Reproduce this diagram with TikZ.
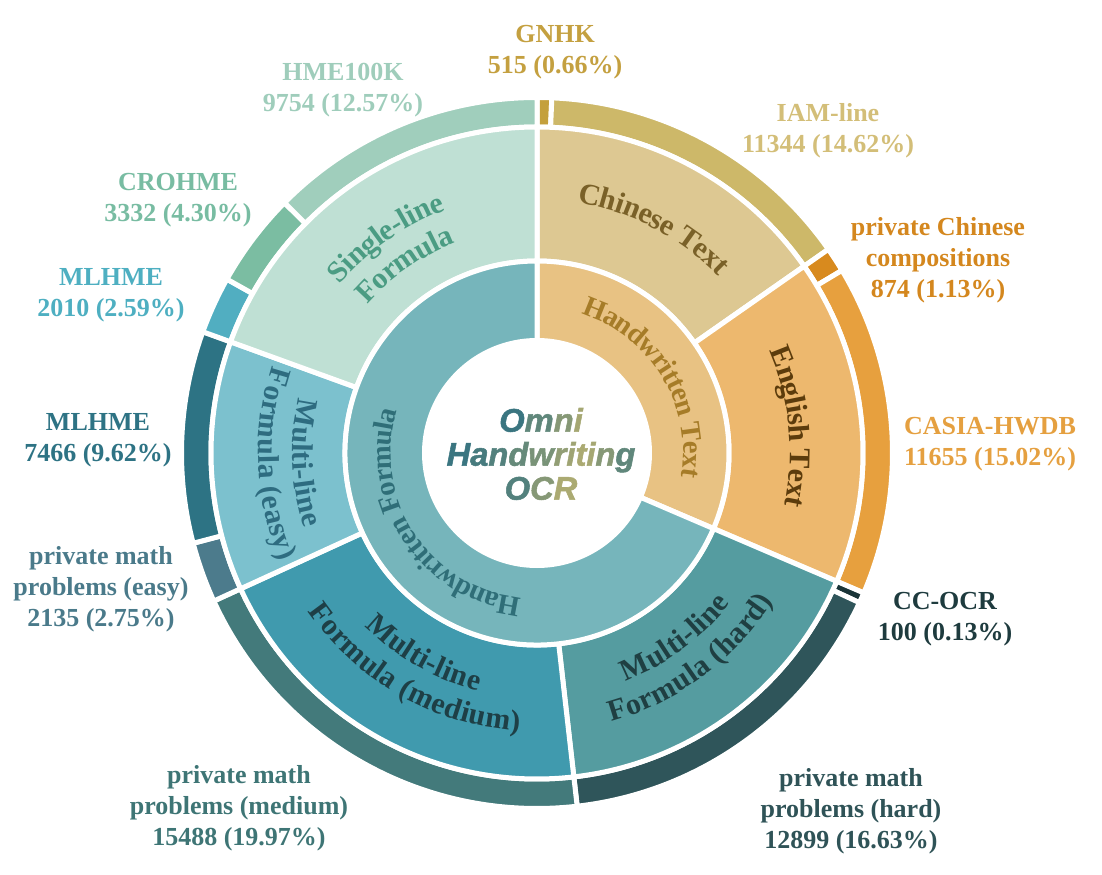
\documentclass[tikz,border=0pt]{standalone}
\usepackage{fontspec}
\setmainfont{Liberation Serif}
\setsansfont{Liberation Sans}
\newfontfamily\titlefam{Liberation Sans Bold Italic}[FakeBold=1.6]
\usepackage{tikz}
\usetikzlibrary{decorations.text}
% ring colours
\definecolor{gnhkc}{HTML}{C4A03C}
\definecolor{iamc}{HTML}{CDB869}
\definecolor{pccc}{HTML}{D88A1E}
\definecolor{casiac}{HTML}{E7A03E}
\definecolor{ccocrc}{HTML}{1A3438}
\definecolor{hardc}{HTML}{2F555A}
\definecolor{mediumc}{HTML}{437A7B}
\definecolor{easyc}{HTML}{4C7B8C}
\definecolor{mlhmeac}{HTML}{2D7384}
\definecolor{mlhmebc}{HTML}{51AEC1}
\definecolor{crohmec}{HTML}{7BBDA2}
\definecolor{hmec}{HTML}{A0CEBC}
\definecolor{chinc}{HTML}{DDC892}
\definecolor{engc}{HTML}{EDB86E}
\definecolor{mhardc}{HTML}{559CA0}
\definecolor{mmedc}{HTML}{409AAE}
\definecolor{measyc}{HTML}{7CC1CE}
\definecolor{msinglec}{HTML}{BFE0D4}
\definecolor{hwtc}{HTML}{E8C283}
\definecolor{hwfc}{HTML}{76B5BB}
% text colours
\definecolor{gnhkt}{HTML}{C4A040}
\definecolor{iamt}{HTML}{D3BE78}
\definecolor{pcct}{HTML}{D4871E}
\definecolor{casiat}{HTML}{E5A040}
\definecolor{ccocrt}{HTML}{1E3B3E}
\definecolor{hardt}{HTML}{2F5357}
\definecolor{mediumt}{HTML}{3E7575}
\definecolor{easyt}{HTML}{4A7A8A}
\definecolor{mlhmeat}{HTML}{2E7384}
\definecolor{mlhmebt}{HTML}{4EAFC1}
\definecolor{crohmet}{HTML}{78BCA2}
\definecolor{hmet}{HTML}{9FCDBB}
\definecolor{chint}{HTML}{7A6128}
\definecolor{engt}{HTML}{5C3C0C}
\definecolor{mhardt}{HTML}{1F3F42}
\definecolor{mmedt}{HTML}{1E3F46}
\definecolor{measyt}{HTML}{2E6C80}
\definecolor{msinglet}{HTML}{4B9C83}
\definecolor{hwtt}{HTML}{A67C28}
\definecolor{hwft}{HTML}{2F6E78}
\definecolor{omnit}{HTML}{3A7580}
\definecolor{omniy}{HTML}{B8B070}
\newcommand\outfont{\bfseries\fontsize{19.5}{23.3}\selectfont}
\newcommand\midfont{\bfseries\fontsize{22.5}{27}\selectfont}
\newcommand\innfont{\bfseries\fontsize{21.5}{25}\selectfont}
\newcommand\titlefont{\titlefam\bfseries\fontsize{24.5}{25.5}\selectfont}
\newcommand\gradl[2]{\textcolor{omniy!#1!omnit}{#2}}
\tikzset{
    sector/.style={draw=white, line width=3.75pt},
    outerlabel/.style={font=\outfont, align=center},
    ringtext/.style={decorate, decoration={text along path, text align=center, raise=-6.5pt}},
}
\begin{document}
\begin{tikzpicture}[x=0.75pt, y=0.75pt]
	\useasboundingbox (-537,-421) rectangle (565,453);
	% outer ring
	\foreach \a/\b/\c in {90/87.61/gnhkc, 87.61/34.96/iamc, 34.96/30.91/pccc, 30.91/-23.18/casiac,
		-23.18/-24.9/ccocrc, -24.9/-83.51/hardc, -83.51/-155.39/mediumc, -155.39/-165.29/easyc,
		-165.29/-199.94/mlhmeac, -199.94/-209.27/mlhmebc, -209.27/-224.74/crohmec, -224.74/-270/hmec}
		\draw[sector, fill=\c] (\a:355.5) arc (\a:\b:355.5) -- (\b:326) arc (\b:\a:326) -- cycle;
	% middle ring
	\foreach \a/\b/\c in {90/34.96/chinc, 34.96/-23.18/engc, -23.18/-83.51/mhardc,
		-83.51/-155.39/mmedc, -155.39/-199.94/measyc, -199.94/-270/msinglec}
		\draw[sector, fill=\c] (\a:326) arc (\a:\b:326) -- (\b:192) arc (\b:\a:192) -- cycle;
	% inner ring
	\draw[sector, fill=hwtc] (90:192) arc (90:-23.18:192) -- (-23.18:112.5) arc (-23.18:90:112.5) -- cycle;
	\draw[sector, fill=hwfc] (-23.18:192) arc (-23.18:-270:192) -- (-270:112.5) arc (-270:-23.18:112.5) -- cycle;

	\path[ringtext, decoration={text={|\innfont|Handwritten Text}, text color=hwtt}] (86:155) arc (86:-23.18:155);
	\path[ringtext, decoration={text={|\innfont|Handwritten Formula}, text color=hwft}] (-23.18:155) arc (-23.18:-270:155);

	\path[ringtext, decoration={text={|\midfont|Chinese Text}, text color=chint}] (90:262) arc (90:34.96:262);
	\path[ringtext, decoration={text={|\midfont|English Text}, text color=engt}] (34.96:262) arc (34.96:-23.18:262);
	\path[ringtext, decoration={text={|\midfont|Multi-line}, text color=mhardt}] (-83.51:236) arc (-83.51:-23.18:236);
	\path[ringtext, decoration={text={|\midfont|Formula (hard)}, text color=mhardt}] (-83.51:270) arc (-83.51:-23.18:270);
	\path[ringtext, decoration={text={|\midfont|Multi-line}, text color=mmedt}] (-155.39:236) arc (-155.39:-83.51:236);
	\path[ringtext, decoration={text={|\midfont|Formula (medium)}, text color=mmedt}] (-155.39:270) arc (-155.39:-83.51:270);
	\path[ringtext, decoration={text={|\midfont|Multi-line}, text color=measyt}] (-199.94:236) arc (-199.94:-155.39:236);
	\path[ringtext, decoration={text={|\midfont|Formula (easy)}, text color=measyt}] (-199.94:270) arc (-199.94:-155.39:270);
	\path[ringtext, decoration={text={|\midfont|Single-line}, text color=msinglet}] (160.06:268) arc (160.06:90:268);
	\path[ringtext, decoration={text={|\midfont|Formula}, text color=msinglet}] (160.06:234) arc (160.06:90:234);

	\node[font=\titlefont, align=center] (title) at (4,-1)
		{\gradl{0}{O}\gradl{30}{m}\gradl{60}{n}\gradl{85}{i}\\
		 \gradl{0}{H}\gradl{10}{a}\gradl{20}{n}\gradl{35}{d}\gradl{50}{w}\gradl{70}{r}\gradl{80}{i}\gradl{90}{t}\gradl{85}{i}\gradl{60}{n}\gradl{30}{g}\\
		 \gradl{20}{O}\gradl{60}{C}\gradl{90}{R}};

	\node[outerlabel, text=gnhkt] (gnhk) at (18,401) {GNHK\\515 (0.66\%)};
	\node[outerlabel, text=iamt] (iam) at (291,322) {IAM-line\\11344 (14.62\%)};
	\node[outerlabel, text=pcct] (pcc) at (401,193) {private Chinese\\compositions\\874 (1.13\%)};
	\node[outerlabel, text=casiat] (casia) at (453,9) {CASIA-HWDB\\11655 (15.02\%)};
	\node[outerlabel, text=ccocrt] (ccocr) at (408,-166) {CC-OCR\\100 (0.13\%)};
	\node[outerlabel, text=hardt] (hard) at (314,-358) {private math\\problems (hard)\\12899 (16.63\%)};
	\node[outerlabel, text=mediumt] (medium) at (-298,-355) {private math\\problems (medium)\\15488 (19.97\%)};
	\node[outerlabel, text=easyt] (easy) at (-436,-136) {private math\\problems (easy)\\2135 (2.75\%)};
	\node[outerlabel, text=mlhmeat] (mlhmea) at (-439,13) {MLHME\\7466 (9.62\%)};
	\node[outerlabel, text=mlhmebt] (mlhmeb) at (-426,158) {MLHME\\2010 (2.59\%)};
	\node[outerlabel, text=crohmet] (crohme) at (-359,253) {CROHME\\3332 (4.30\%)};
	\node[outerlabel, text=hmet] (hme) at (-194,363) {HME100K\\9754 (12.57\%)};
\end{tikzpicture}
\end{document}
